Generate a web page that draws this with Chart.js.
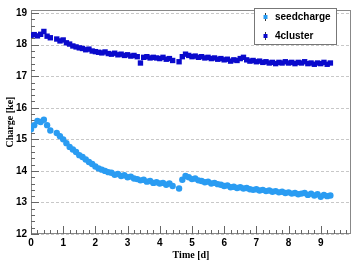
<!DOCTYPE html>
<html>
<head>
<meta charset="utf-8">
<script src="https://cdn.jsdelivr.net/npm/chart.js@4/dist/chart.umd.min.js"></script>
<style>
  html, body { margin: 0; padding: 0; background: #fff; }
  #wrap { width: 357px; height: 265px; }
</style>
</head>
<body>
<div id="wrap"><canvas id="chart" width="357" height="265"></canvas></div>
<script>
// Time axis (days), gaps where the run stopped
const times = [
  0.0, 0.1, 0.2, 0.3, 0.4, 0.5, 0.6,
  0.8, 0.9, 1.0, 1.1, 1.2, 1.3, 1.4, 1.5, 1.6, 1.7, 1.8, 1.9,
  2.0, 2.1, 2.2, 2.3, 2.4, 2.5, 2.6, 2.7, 2.8, 2.9,
  3.0, 3.1, 3.2, 3.3, 3.4, 3.5, 3.6, 3.7, 3.8, 3.9,
  4.0, 4.1, 4.2, 4.3, 4.4,
  4.6, 4.7, 4.8, 4.9,
  5.0, 5.1, 5.2, 5.3, 5.4, 5.5, 5.6, 5.7, 5.8, 5.9,
  6.0, 6.1, 6.2, 6.3, 6.4, 6.5, 6.6, 6.7, 6.8, 6.9,
  7.0, 7.1, 7.2, 7.3, 7.4, 7.5, 7.6, 7.7, 7.8, 7.9,
  8.0, 8.1, 8.2, 8.3, 8.4, 8.5, 8.6, 8.7, 8.8, 8.9,
  9.0, 9.1, 9.2, 9.3
];

const seedcharge = [
  15.32, 15.45, 15.58, 15.55, 15.62, 15.45, 15.28,
  15.20, 15.10, 15.00, 14.88, 14.76, 14.68, 14.60, 14.50, 14.44, 14.36, 14.28, 14.22,
  14.14, 14.08, 14.04, 14.00, 13.96, 13.94, 13.88, 13.90, 13.84, 13.86,
  13.80, 13.82, 13.76, 13.74, 13.70, 13.72, 13.66, 13.68, 13.62, 13.64,
  13.60, 13.62, 13.56, 13.60, 13.52,
  13.44, 13.72, 13.84, 13.80,
  13.74, 13.76, 13.70, 13.68, 13.64, 13.66, 13.60, 13.62, 13.58, 13.56,
  13.52, 13.54, 13.48, 13.50, 13.46, 13.48, 13.44, 13.46, 13.42, 13.40,
  13.42, 13.38, 13.40, 13.36, 13.38, 13.34, 13.36, 13.32, 13.34, 13.30,
  13.32, 13.28, 13.30, 13.26, 13.28, 13.30, 13.24, 13.28, 13.22, 13.26,
  13.18, 13.24, 13.20, 13.22
];

const cluster4 = [
  18.30, 18.32, 18.28, 18.33, 18.42, 18.27, 18.22,
  18.18, 18.12, 18.15, 18.06, 18.02, 17.96, 17.93, 17.90, 17.88, 17.84, 17.86, 17.80,
  17.78, 17.76, 17.74, 17.77, 17.72, 17.70, 17.73, 17.68, 17.70, 17.66,
  17.68, 17.64, 17.66, 17.62, 17.42, 17.60, 17.62, 17.58, 17.60, 17.58,
  17.56, 17.60, 17.54, 17.56, 17.50,
  17.46, 17.62, 17.70, 17.66,
  17.62, 17.64, 17.60, 17.62, 17.58, 17.60, 17.56, 17.58, 17.54, 17.56,
  17.52, 17.54, 17.48, 17.52, 17.50, 17.56, 17.60, 17.52, 17.48, 17.50,
  17.46, 17.48, 17.44, 17.46, 17.42, 17.44, 17.40, 17.44, 17.42, 17.46,
  17.42, 17.44, 17.40, 17.44, 17.42, 17.46, 17.40, 17.42, 17.38, 17.42,
  17.40, 17.44, 17.38, 17.42
];

const yTicks = [12, 13, 14, 15, 16, 17, 18, 19];
const xTicks = [0, 1, 2, 3, 4, 5, 6, 7, 8, 9];

const pts = (ys) => times.map((t, i) => ({ x: t, y: ys[i] }));

// frame, dashed grid and inward ROOT-style ticks
const frame = {
  id: 'frame',
  beforeDatasetsDraw(chart) {
    const { ctx, chartArea: a, scales: { x, y } } = chart;
    ctx.save();
    ctx.strokeStyle = '#c8c8c8';
    ctx.lineWidth = 1;
    ctx.setLineDash([3, 2]);
    yTicks.forEach(v => {
      const py = Math.round(y.getPixelForValue(v)) + 0.5;
      ctx.beginPath(); ctx.moveTo(a.left, py); ctx.lineTo(a.right, py); ctx.stroke();
    });
    ctx.setLineDash([]);
    ctx.strokeStyle = '#888';
    ctx.strokeRect(a.left + 0.5, a.top + 0.5, a.right - a.left - 1, a.bottom - a.top - 1);
    ctx.strokeStyle = '#666';
    ctx.beginPath();
    for (let v = 12; v <= 19.05; v += 0.2) {
      const py = Math.round(y.getPixelForValue(v)) + 0.5;
      const major = Math.abs(v - Math.round(v)) < 0.01;
      ctx.moveTo(a.left, py); ctx.lineTo(a.left + (major ? 8 : 4), py);
    }
    for (let v = 0; v <= 9.9; v += 0.2) {
      const px = Math.round(x.getPixelForValue(v)) + 0.5;
      const major = Math.abs(v - Math.round(v)) < 0.01;
      ctx.moveTo(px, a.bottom); ctx.lineTo(px, a.bottom - (major ? 8 : 4));
    }
    ctx.stroke();
    ctx.restore();
  }
};

// boxed legend in the upper right
const boxLegend = {
  id: 'boxLegend',
  afterDraw(chart) {
    const ctx = chart.ctx;
    const bx = 254, by = 8, bw = 82, bh = 36;
    ctx.save();
    ctx.fillStyle = '#fff';
    ctx.fillRect(bx, by, bw, bh);
    ctx.strokeStyle = '#777';
    ctx.lineWidth = 1;
    ctx.strokeRect(bx + 0.5, by + 0.5, bw, bh);
    ctx.font = 'bold 10px "Liberation Sans", Arial, sans-serif';
    ctx.textBaseline = 'middle';
    chart.data.datasets.forEach((ds, i) => {
      const cy = by + 9 + i * 19;
      ctx.strokeStyle = '#333';
      ctx.beginPath(); ctx.moveTo(265.5, cy - 4); ctx.lineTo(265.5, cy + 4); ctx.stroke();
      ctx.fillStyle = ds.backgroundColor;
      ctx.fillRect(263.5, cy - 2, 4, 4);
      ctx.fillStyle = '#000';
      ctx.fillText(ds.label, 275, cy);
    });
    ctx.restore();
  }
};

new Chart(document.getElementById('chart'), {
  type: 'scatter',
  data: {
    datasets: [
      {
        label: 'seedcharge',
        data: pts(seedcharge),
        backgroundColor: '#2a9cf2',
        borderWidth: 0,
        pointStyle: 'circle',
        pointRadius: 3.2
      },
      {
        label: '4cluster',
        data: pts(cluster4),
        backgroundColor: '#0a0acc',
        borderWidth: 0,
        pointStyle: 'rect',
        pointRadius: 3.8
      }
    ]
  },
  options: {
    responsive: false,
    animation: false,
    layout: { padding: { top: 7, right: 6, left: 0, bottom: 0 } },
    plugins: { legend: { display: false }, tooltip: { enabled: false } },
    scales: {
      x: {
        type: 'linear',
        min: 0, max: 9.94,
        afterFit: s => { s.height = 31; },
        grid: { display: false, drawTicks: false },
        border: { display: false },
        ticks: {
          stepSize: 1, includeBounds: false, padding: 3,
          color: '#000', maxRotation: 0,
          font: { family: '"Liberation Sans", Arial, sans-serif', size: 10, weight: 'bold' }
        },
        title: {
          display: true, text: 'Time [d]', color: '#000', padding: { top: 0, bottom: 4 },
          font: { family: '"Liberation Serif", serif', size: 10, weight: 'bold' }
        }
      },
      y: {
        min: 12, max: 19.1,
        afterFit: s => { s.width = 31; },
        grid: { display: false, drawTicks: false },
        border: { display: false },
        ticks: {
          stepSize: 1, includeBounds: false, padding: 4,
          color: '#000',
          font: { family: '"Liberation Sans", Arial, sans-serif', size: 10, weight: 'bold' }
        },
        title: {
          display: true, text: 'Charge [ke]', color: '#000', padding: { top: 4, bottom: 0 },
          font: { family: '"Liberation Serif", serif', size: 10, weight: 'bold' }
        }
      }
    }
  },
  plugins: [frame, boxLegend]
});
</script>
</body>
</html>
